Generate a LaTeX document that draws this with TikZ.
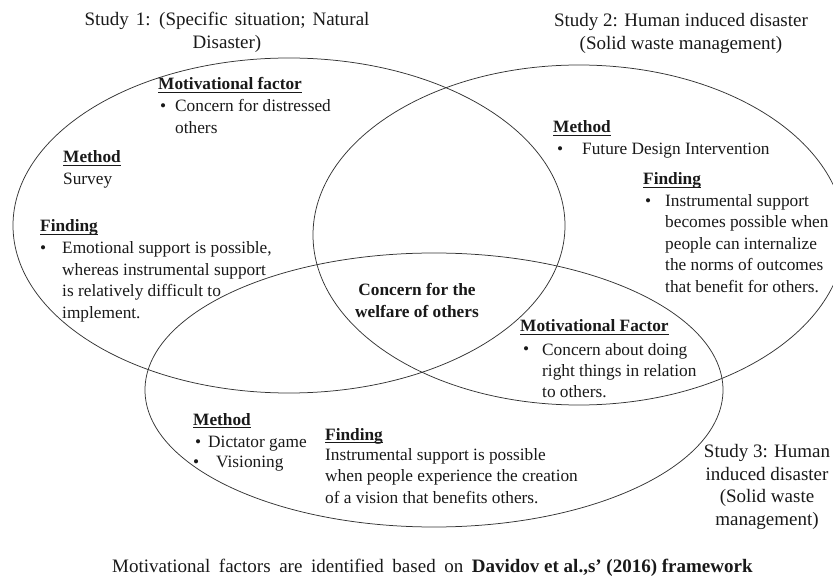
\documentclass[tikz,border=0pt]{standalone}
\usepackage{fontspec}
\setmainfont{Liberation Serif}
\usetikzlibrary{shapes.geometric}
\newcommand\hdr[1]{\setbox0\hbox{\bfseries #1}\rlap{\rule[-3.2pt]{\wd0}{1pt}}\box0}
\begin{document}
\begin{tikzpicture}[x=1pt,y=-1pt,
  venn/.style={draw=black!80, line width=0.75pt, ellipse, inner sep=0pt},
  body/.style={inner sep=0pt, anchor=base west, align=left, font=\fontsize{17.3}{21.5}\selectfont, text=black!90},
  ttl/.style={inner sep=0pt, anchor=base, align=center, font=\fontsize{19}{22.5}\selectfont, text=black!90},
  bul/.style={inner sep=0pt, anchor=base west, font=\fontsize{17.3}{21.5}\selectfont, text=black!90}]
\useasboundingbox (0,0) rectangle (833,577);

% circles
\node[venn, minimum width=552pt, minimum height=335pt] (s1) at (289,225.5) {};
\node[venn, minimum width=532pt, minimum height=340pt] (s2) at (579,235) {};
\node[venn, minimum width=578pt, minimum height=274pt] (s3) at (434,390) {};

% titles (anchor = baseline of last line)
\node[ttl] (t1) at (227,48.5) {{\spaceskip=7pt Study 1: (Specific situation; Natural}\\Disaster)};
\node[ttl] (t2) at (681,49.5) {Study 2: Human induced disaster\\(Solid waste management)};
\node[ttl] (t3) at (767,525) {Study 3: Human\\induced disaster\\(Solid waste\\management)};

% study 1
\node[body] (m1h) at (158,90) {\hdr{Motivational factor}};
\node[bul] (m1b) at (160,112) {•};
\node[body] (m1t) at (175,133.5) {Concern for distressed\\others};
\node[body] (me1) at (63,184.5) {\hdr{Method}\\Survey};
\node[body] (f1h) at (40,232) {\hdr{Finding}};
\node[bul] (f1b) at (40,254) {•};
\node[body] (f1t) at (62,318.5) {Emotional support is possible,\\whereas instrumental support\\is relatively difficult to\\implement.};

% study 2
\node[body] (me2) at (553,133) {\hdr{Method}};
\node[bul] (me2b) at (557,155) {•};
\node[body] (me2t) at (582,155) {Future Design Intervention};
\node[body] (f2h) at (643,185) {\hdr{Finding}};
\node[bul] (f2b) at (645,206.5) {•};
\node[body] (f2t) at (665,292.5) {Instrumental support\\becomes possible when\\people can internalize\\the norms of outcomes\\that benefit for others.};

% centre
\node[inner sep=0pt, anchor=base, align=center, font=\fontsize{17.3}{21.5}\selectfont\bfseries, text=black!90] (c) at (417,317.5) {Concern for the\\welfare of others};

% study 2/3
\node[body] (m2h) at (520,332) {\hdr{Motivational Factor}};
\node[bul] (m2b) at (523,355) {•};
\node[body] (m2t) at (542,398) {Concern about doing\\right things in relation\\to others.};

% study 3
\node[body] (me3) at (193,425) {\hdr{Method}};
\node[bul] (me3b1) at (195,447) {•};
\node[body] (me3t1) at (208,447) {Dictator game};
\node[bul] (me3b2) at (193,467) {•};
\node[body] (me3t2) at (216,467) {Visioning};
\node[body] (f3h) at (325,440) {\hdr{Finding}};
\node[body] (f3t) at (325,503) {Instrumental support is possible\\when people experience the creation\\of a vision that benefits others.};

% bottom line
\node[inner sep=0pt, anchor=base west, font=\fontsize{19}{22}\selectfont, text=black!90] (foot) at (112,572) {{\spaceskip=8.6pt Motivational factors are identified based on }\textbf{Davidov et al.,s' (2016) framework}};
\end{tikzpicture}
\end{document}
